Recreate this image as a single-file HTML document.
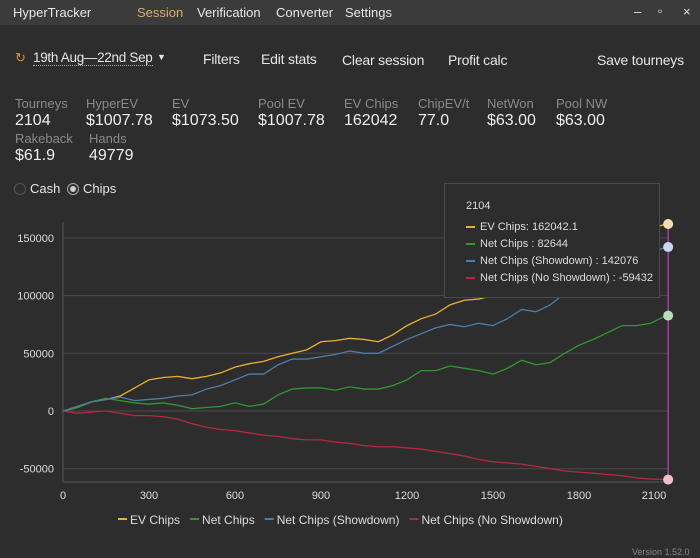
<!DOCTYPE html>
<html><head><meta charset="utf-8"><style>
body{margin:0;width:700px;height:558px;background:#2d2d2d;font-family:"Liberation Sans",sans-serif;color:#e6e6e6;overflow:hidden;position:relative}
.abs{position:absolute;white-space:nowrap}
#title{position:absolute;left:0;top:0;width:700px;height:25px;background:#3b3b3b}
.lab{font-size:13px;color:#8a8a8a}
.val{font-size:16px;color:#eee}
</style></head><body>
<div id="title"></div>
<div class="abs" style="left:13px;top:5px;font-size:13px">HyperTracker</div>
<div class="abs" style="left:137px;top:5px;font-size:13px;color:#d8b06a">Session</div>
<div class="abs" style="left:197px;top:5px;font-size:13px">Verification</div>
<div class="abs" style="left:276px;top:5px;font-size:13px">Converter</div>
<div class="abs" style="left:345px;top:5px;font-size:13px">Settings</div>
<div class="abs" style="left:634px;top:4px;font-size:13px">–</div>
<div class="abs" style="left:658px;top:4px;font-size:12px">▫</div>
<div class="abs" style="left:683px;top:4px;font-size:13px">×</div>

<div class="abs" style="left:15px;top:50px;font-size:13px;color:#d8963a">↻</div>
<div class="abs" style="left:33px;top:50px;font-size:13.5px;letter-spacing:-0.3px;border-bottom:1px dotted #aaa">19th Aug—22nd Sep</div>
<div class="abs" style="left:157px;top:52px;font-size:9px">▼</div>
<div class="abs" style="left:203px;top:51px;font-size:14px;letter-spacing:-0.2px">Filters</div>
<div class="abs" style="left:261px;top:51px;font-size:14px;letter-spacing:-0.2px">Edit stats</div>
<div class="abs" style="left:342px;top:52px;font-size:14px;letter-spacing:-0.2px">Clear session</div>
<div class="abs" style="left:448px;top:52px;font-size:14px;letter-spacing:-0.2px">Profit calc</div>
<div class="abs" style="left:597px;top:52px;font-size:14px;letter-spacing:-0.2px">Save tourneys</div>

<div>
<div class="abs lab" style="left:15px;top:96px">Tourneys</div><div class="abs val" style="left:15px;top:112px">2104</div>
<div class="abs lab" style="left:86px;top:96px">HyperEV</div><div class="abs val" style="left:86px;top:112px">$1007.78</div>
<div class="abs lab" style="left:172px;top:96px">EV</div><div class="abs val" style="left:172px;top:112px">$1073.50</div>
<div class="abs lab" style="left:258px;top:96px">Pool EV</div><div class="abs val" style="left:258px;top:112px">$1007.78</div>
<div class="abs lab" style="left:344px;top:96px">EV Chips</div><div class="abs val" style="left:344px;top:112px">162042</div>
<div class="abs lab" style="left:418px;top:96px">ChipEV/t</div><div class="abs val" style="left:418px;top:112px">77.0</div>
<div class="abs lab" style="left:487px;top:96px">NetWon</div><div class="abs val" style="left:487px;top:112px">$63.00</div>
<div class="abs lab" style="left:556px;top:96px">Pool NW</div><div class="abs val" style="left:556px;top:112px">$63.00</div>
<div class="abs lab" style="left:15px;top:131px">Rakeback</div><div class="abs val" style="left:15px;top:147px">$61.9</div>
<div class="abs lab" style="left:89px;top:131px">Hands</div><div class="abs val" style="left:89px;top:147px">49779</div>
</div>
<div class="abs" style="left:14px;top:183px;width:10px;height:10px;border:1px solid #555;border-radius:50%"></div>
<div class="abs" style="left:30px;top:181px;font-size:13px">Cash</div>
<div class="abs" style="left:67px;top:183px;width:10px;height:10px;border:1px solid #aaa;border-radius:50%"><div style="margin:2px;width:6px;height:6px;border-radius:50%;background:#ccc"></div></div>
<div class="abs" style="left:83px;top:181px;font-size:13px">Chips</div>

<svg id="chart" width="700" height="558" style="position:absolute;left:0;top:0"></svg>

<div class="abs" style="left:444px;top:183px;width:214px;height:113px;background:#2d2d2d;border:1px solid #4a4a4a;font-size:11px;color:#ddd">
<div style="position:absolute;left:21px;top:16px">2104</div>
<div style="position:absolute;left:21px;top:37px"><span style="display:inline-block;width:9px;height:2px;background:#e8b030;vertical-align:middle;margin-right:5px"></span>EV Chips: 162042.1</div>
<div style="position:absolute;left:21px;top:54px"><span style="display:inline-block;width:9px;height:2px;background:#2e9a2e;vertical-align:middle;margin-right:5px"></span>Net Chips : 82644</div>
<div style="position:absolute;left:21px;top:71px"><span style="display:inline-block;width:9px;height:2px;background:#4d7ea8;vertical-align:middle;margin-right:5px"></span>Net Chips (Showdown) : 142076</div>
<div style="position:absolute;left:21px;top:88px"><span style="display:inline-block;width:9px;height:2px;background:#b02a40;vertical-align:middle;margin-right:5px"></span>Net Chips (No Showdown) : -59432</div>
</div>
<div class="abs" style="left:632px;top:547px;font-size:9px;color:#888">Version 1.52.0</div>

<script>
const xs=[0,50,100,150,200,250,300,350,400,450,500,550,600,650,700,750,800,850,900,950,1000,1050,1100,1150,1200,1250,1300,1350,1400,1450,1500,1550,1600,1650,1700,1750,1800,1850,1900,1950,2000,2050,2104];
const evChips=[0,3,8,10,13,20,27,29,30,28,30,33,38,41,43,47,50,53,60,61,63,62,60,66,74,80,84,92,96,97,100,105,112,118,124,130,136,140,145,150,154,158,162.04];
const netChips=[0,3,8,11,9,7,6,7,5,2,3,4,7,4,6,14,19,20,20,18,21,19,19,22,27,35,35,39,37,35,32,37,44,40,42,50,57,62,68,74,74,76,82.64];
const showdown=[0,4,8,10,12,9,10,11,13,14,19,22,27,32,32,40,45,45,47,49,52,50,50,56,62,67,72,75,73,76,74,80,88,86,92,102,110,115,121,127,132,137,142.08];
const noShowdown=[0,-2,-1,0,-2,-4,-4,-5,-7,-11,-14,-16,-17,-19,-21,-22,-24,-25,-25,-27,-28,-30,-31,-31,-32,-33,-35,-37,-39,-42,-44,-45,-46,-48,-50,-52,-53,-54,-55,-56,-58,-59,-59.43];
const yTicks=[-50000,0,50000,100000,150000];
const xTicks=[0,300,600,900,1200,1500,1800,2100];
const legendNames=["EV Chips","Net Chips","Net Chips (Showdown)","Net Chips (No Showdown)"];
const colors=["#e8b030","#2e9a2e","#4d7ea8","#b02a40"];
const dotColors=["#f5dcb0","#b8e0b8","#c8d8f0","#f0c0cc"];
const X=v=>63+v*(602/2100);
const Y=v=>411-v*(57.7/50000);
const svg=document.getElementById('chart');
const NS='http://www.w3.org/2000/svg';
function mk(t,a){const e=document.createElementNS(NS,t);for(const k in a)e.setAttribute(k,a[k]);svg.appendChild(e);return e;}
yTicks.forEach(t=>{
 const g=mk('line',{x1:63,x2:668,y1:Y(t),y2:Y(t),stroke:'#4a4a4a','stroke-width':1});
 
 
 const l=mk('text',{x:54,y:Y(t)+4,'text-anchor':'end',fill:'#ddd','font-size':11,'font-family':'Liberation Sans'});
 l.textContent=t;
 
 
});
const ax=mk('line',{x1:63,x2:63,y1:222,y2:482,stroke:'#555'});


const bx=mk('line',{x1:63,x2:668,y1:482,y2:482,stroke:'#555'});


xTicks.forEach(t=>{
 const l=mk('text',{x:Math.min(X(t),654),y:499,'text-anchor':'middle',fill:'#ddd','font-size':11,'font-family':'Liberation Sans'});
 l.textContent=t;
 
 
});
[evChips,netChips,showdown,noShowdown].forEach((s,i)=>{
 const p=mk('polyline',{points:s.map((v,j)=>X(xs[j])+','+Y(v*1000)).join(' '),fill:'none',stroke:colors[i],'stroke-width':1.3});
 
 
});
const cur=mk('line',{x1:X(2104)+2,x2:X(2104)+2,y1:222,y2:482,stroke:'#c040c0','stroke-width':1.2});


[evChips,netChips,showdown,noShowdown].forEach((s,i)=>{
 const c=mk('circle',{cx:X(2104)+2,cy:Y(s[s.length-1]*1000),r:5,fill:dotColors[i]});
 
 
});
let lx=118;
legendNames.forEach((n,i)=>{
 const m=mk('line',{x1:lx,x2:lx+9,y1:519,y2:519,stroke:colors[i],'stroke-width':2});
 
 
 const t=mk('text',{x:lx+12,y:524,fill:'#ddd','font-size':12,'font-family':'Liberation Sans'});
 t.textContent=n;
 
 
 lx+=12+t.getComputedTextLength()+10;
});
</script>
</body></html>
